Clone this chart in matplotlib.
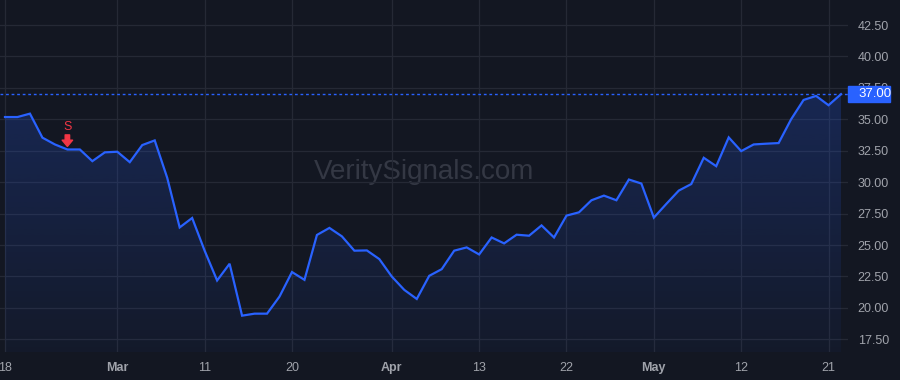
import numpy as np
import matplotlib
matplotlib.use('Agg')
from matplotlib import pyplot as plt
from matplotlib import transforms
from matplotlib.patches import Rectangle

# daily closes, one per trading session
prices = [35.18, 35.18, 35.45, 33.54, 33.00, 32.60, 32.60, 31.67, 32.37, 32.42,
          31.59, 32.95, 33.32, 30.35, 26.40, 27.15, 24.55, 22.18, 23.51, 19.38,
          19.54, 19.54, 20.90, 22.85, 22.23, 25.80, 26.36, 25.69, 24.55, 24.57,
          23.88, 22.49, 21.43, 20.71, 22.55, 23.08, 24.55, 24.81, 24.25, 25.60,
          25.13, 25.82, 25.74, 26.56, 25.60, 27.34, 27.60, 28.56, 28.93, 28.56,
          30.21, 29.89, 27.18, 28.27, 29.33, 29.85, 31.94, 31.27, 33.56, 32.47,
          33.00, 33.06, 33.11, 35.00, 36.54, 36.86, 36.12, 37.00]
tick_pos = [0, 9, 16, 23, 31, 38, 45, 52, 59, 66]
tick_labels = ['18', 'Mar', '11', '20', 'Apr', '13', '22', 'May', '12', '21']
month_labels = ['Mar', 'Apr', 'May']
y_ticks = [17.5, 20.0, 22.5, 25.0, 27.5, 30.0, 32.5, 35.0, 37.5, 40.0, 42.5]
sell_signals = [5]
last_price = prices[-1]

BG = '#131722'
BLUE = '#2962ff'
GRID = '#252935'
TXT = '#a0a3ab'
RED = '#f23645'

plt.rcParams['font.family'] = ['Liberation Sans', 'DejaVu Sans']

fig = plt.figure(figsize=(9, 3.8), dpi=100, facecolor=BG)
ax = fig.add_axes([0, 1 - 352 / 380, 848 / 900, 352 / 380])
ax.set_facecolor(BG)

x = np.arange(len(prices))
xlim = (-0.4, 67.56)
ylim = (16.49, 44.49)

# gradient area under the line
poly = ax.fill_between(x, prices, ylim[0], color='none', lw=0)
grad = np.zeros((256, 1, 4))
grad[:, 0, 0] = 41 / 255
grad[:, 0, 1] = 98 / 255
grad[:, 0, 2] = 1.0
grad[:, 0, 3] = np.linspace(0.22, 0.04, 256)
img = ax.imshow(grad, extent=[x[0], x[-1], ylim[0], max(prices)],
                aspect='auto', origin='upper', zorder=1)
img.set_clip_path(poly.get_paths()[0], transform=ax.transData)

ax.plot(x, prices, color=BLUE, lw=1.6, zorder=3, solid_joinstyle='miter')

# last price line + label
ax.axhline(last_price, color=BLUE, lw=1, ls=(0, (2, 2)), zorder=2)
tr = transforms.blended_transform_factory(ax.transAxes, ax.transData)
ax.add_patch(Rectangle((1.0, last_price - 0.64), 42 / 848, 1.28, transform=tr,
                       color=BLUE, clip_on=False, zorder=5))
ax.text(1.0 + 10 / 848, last_price, '%.2f' % last_price, transform=tr,
        color='white', fontsize=9.5, va='center', ha='left', zorder=6)

# sell signals
for i in sell_signals:
    ax.annotate('', xy=(i, prices[i]), xytext=(0, 10.5), textcoords='offset points',
                arrowprops=dict(arrowstyle='simple,head_width=0.75,head_length=0.45,tail_width=0.32',
                                color=RED, shrinkA=0, shrinkB=2.2), zorder=4)
    ax.annotate('S', xy=(i, prices[i]), xytext=(0, 16.5), textcoords='offset points',
                color=RED, fontsize=9, ha='center', va='center', zorder=4)

ax.text(0.5, 0.511, 'VeritySignals.com', transform=ax.transAxes, fontsize=20,
        color='#343844', ha='center', va='center', zorder=0)

ax.set_xlim(xlim)
ax.set_ylim(ylim)
ax.set_xticks(tick_pos)
ax.set_xticklabels(tick_labels)
for lab in ax.get_xticklabels():
    if lab.get_text() in month_labels:
        lab.set_fontweight('bold')
ax.set_yticks(y_ticks)
ax.set_yticklabels(['%.2f' % v for v in y_ticks])
ax.yaxis.tick_right()
ax.tick_params(axis='both', length=0, colors=TXT, labelsize=9)
ax.tick_params(axis='y', pad=7)
ax.tick_params(axis='x', pad=7)
ax.grid(True, color=GRID, lw=0.9, zorder=0)
ax.set_axisbelow(True)
for s in ax.spines.values():
    s.set_visible(False)

fig.savefig('out.png', dpi=100, facecolor=BG)
